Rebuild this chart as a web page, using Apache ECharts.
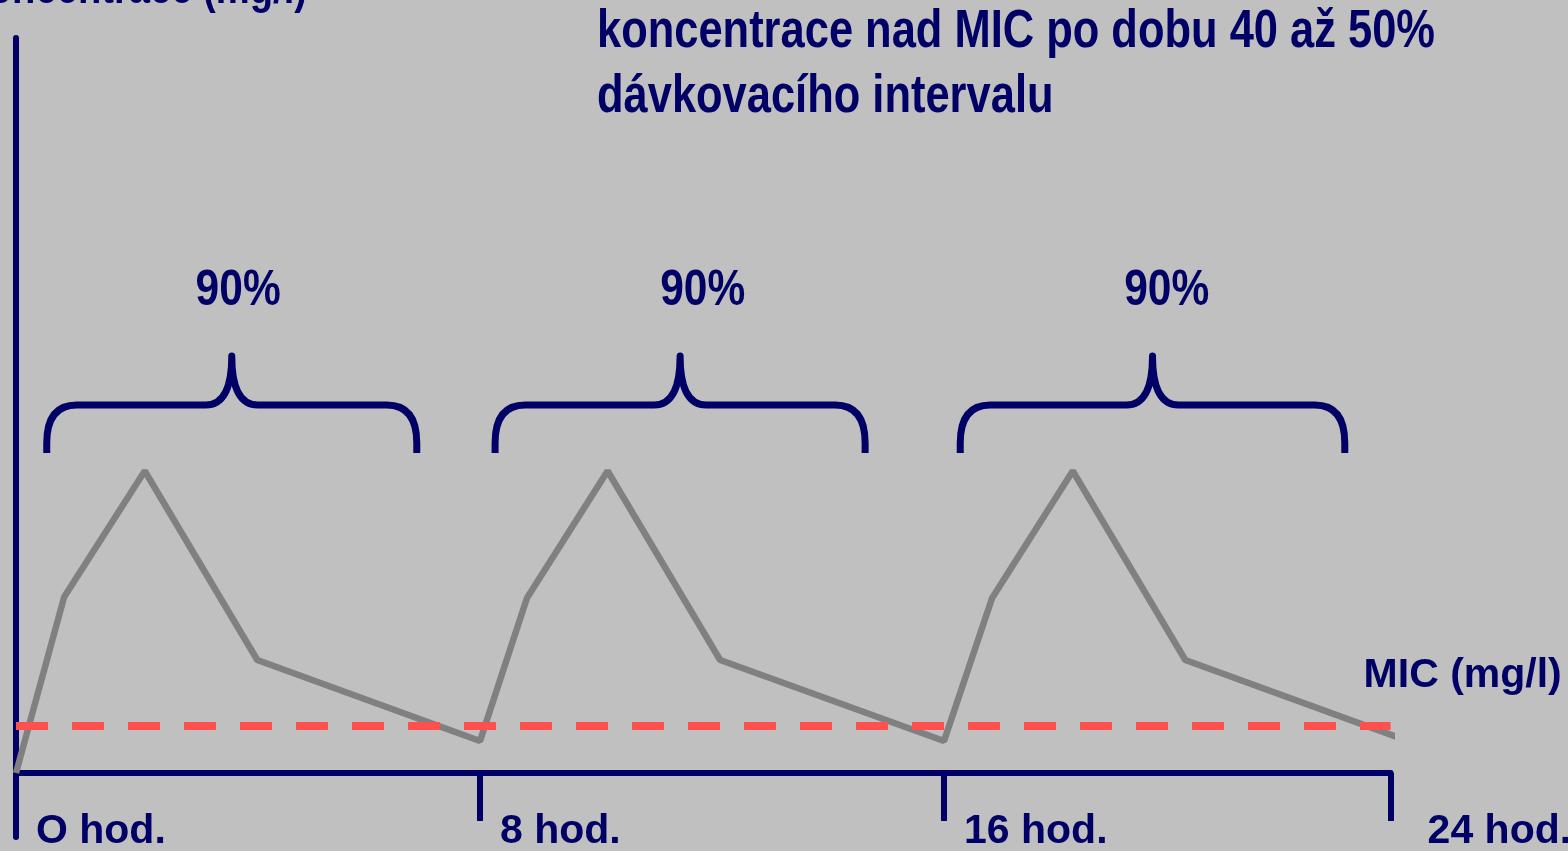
<!DOCTYPE html>
<html>
<head>
<meta charset="utf-8">
<title>koncentrace nad MIC</title>
<script src="https://cdn.jsdelivr.net/npm/echarts@6/dist/echarts.min.js"></script>
<style>
  html, body { margin: 0; padding: 0; background: #c0c0c0; }
  #main { width: 1568px; height: 851px; }
</style>
</head>
<body>
<div id="main"></div>
<script>
// hodiny a koncentrace
var hours = [0, 0.83, 2.22, 4.16, 8, 8.81, 10.2, 12.14, 16, 16.83, 18.22, 20.16, 24];
var concentration = [0, 17.6, 30.2, 11.3, 3.2, 17.5, 30.2, 11.3, 3.2, 17.5, 30.2, 11.3, 3.2];
var micLevel = 4.7;
var tickHours = [0, 8, 16, 23.7];
var tickLabels = ['O hod.', '8 hod.', '16 hod.', '24 hod.'];
// závorky nad jednotlivými dávkami
var braceStart = [0.53, 8.26, 16.28];
var braceEnd = [6.91, 14.64, 22.91];
var braceLabelHours = [3.83, 11.84, 19.84];
var braceLabels = ['90%', '90%', '90%'];
var braceBottom = 32, braceLevel = 36.8, braceTop = 41.7, braceLabelLevel = 48.2;

var navy = '#000066';
// úzké písmo není k dispozici -> text se zužuje přes scaleX
var font = '"Liberation Sans", Arial, sans-serif';

function renderBrace(params, api) {
  var s = api.value(0), e = api.value(1);
  var pl = api.coord([s, braceBottom]);
  var pr = api.coord([e, braceBottom]);
  var yh = api.coord([s, braceLevel])[1];
  var yt = api.coord([s, braceTop])[1];
  var xl = pl[0], xr = pr[0], yb = pl[1], xc = (xl + xr) / 2;
  var d = ['M', xl, yb, 'L', xl, yb - 10, 'Q', xl, yh, xl + 30, yh,
    'L', xc - 26, yh, 'Q', xc, yh, xc, yt, 'Q', xc, yh, xc + 26, yh,
    'L', xr - 30, yh, 'Q', xr, yh, xr, yb - 10, 'L', xr, yb].join(' ');
  var lp = api.coord([api.value(2), braceLabelLevel]);
  return {
    type: 'group',
    children: [
      { type: 'path', shape: { pathData: d },
        style: { fill: 'none', stroke: navy, lineWidth: 7, lineJoin: 'round' } },
      { type: 'text', x: lp[0], y: lp[1], scaleX: 0.85,
        style: { text: braceLabels[params.dataIndex], fill: navy, fontSize: 50,
                 fontWeight: 'bold', fontFamily: font, align: 'center', verticalAlign: 'middle' } }
    ]
  };
}

var myChart = echarts.init(document.getElementById('main'));
var option = {
  backgroundColor: '#c0c0c0',
  animation: false,
  graphic: [
    {
      type: 'text', left: 597, top: 0, scaleX: 0.82,
      style: {
        text: 'koncentrace nad MIC po dobu 40 až 50%\ndávkovacího intervalu',
        fill: navy, fontSize: 53, lineHeight: 65, fontWeight: 'bold', fontFamily: font
      }
    },
    {
      type: 'text', x: 307, y: -10, scaleX: 0.83,
      style: {
        text: 'Koncentrace (mg/l)', align: 'right', verticalAlign: 'middle',
        fill: navy, fontSize: 46, fontWeight: 'bold', fontFamily: font
      }
    }
  ],
  grid: { left: 16, right: 177.4, top: 38, bottom: 14, containLabel: false, outerBoundsMode: 'none' },
  xAxis: {
    type: 'value',
    min: 0,
    max: 23.7,
    splitLine: { show: false },
    axisLine: { onZero: true, lineStyle: { color: navy, width: 6 } },
    axisTick: { customValues: tickHours, length: 48, lineStyle: { color: navy, width: 6 } },
    axisLabel: {
      customValues: tickHours,
      // etikety se v6 měří od spodního okraje gridu, ne od osy na nule
      margin: -20,
      align: 'left',
      padding: [0, 0, 0, 20],
      color: navy,
      fontSize: 41,
      lineHeight: 30,
      fontWeight: 'bold',
      fontFamily: font,
      formatter: function (v) {
        var i = tickHours.indexOf(v);
        if (i === tickHours.length - 1) return '{e|' + tickLabels[i] + '}';
        return tickLabels[i];
      },
      rich: {
        e: { padding: [0, 0, 0, 17], color: navy, fontSize: 41, lineHeight: 30,
             fontWeight: 'bold', fontFamily: font }
      }
    }
  },
  yAxis: {
    type: 'value',
    min: -6.4,
    max: 73.5,
    splitLine: { show: false },
    axisTick: { show: false },
    axisLabel: { show: false },
    axisLine: { show: true, onZero: false, lineStyle: { color: navy, width: 6 } }
  },
  series: [
    {
      type: 'line',
      data: hours.map(function (h, i) { return [h, concentration[i]]; }),
      symbol: 'none',
      clip: false,
      lineStyle: { color: '#808080', width: 6.5 },
      z: 3,
      markLine: {
        silent: true,
        symbol: ['none', 'none'],
        lineStyle: { color: '#ff5050', width: 8, type: [32, 24] },
        label: {
          show: true,
          position: 'end',
          formatter: 'MIC (mg/l)',
          offset: [-32, -50],
          color: navy,
          fontSize: 41,
          fontWeight: 'bold',
          fontFamily: font
        },
        data: [[{ coord: [0, micLevel] }, { coord: [23.7, micLevel] }]]
      }
    },
    {
      type: 'custom',
      renderItem: renderBrace,
      clip: false,
      encode: { x: [0, 1] },
      data: braceStart.map(function (s, i) { return [s, braceEnd[i], braceLabelHours[i]]; })
    }
  ]
};
myChart.setOption(option);
</script>
</body>
</html>
